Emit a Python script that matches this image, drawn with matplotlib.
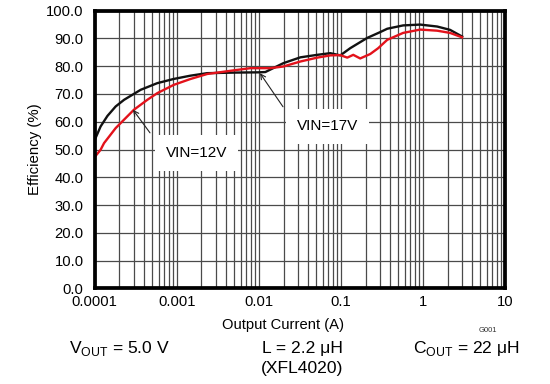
import matplotlib
matplotlib.use("Agg")
import matplotlib.pyplot as plt
from matplotlib.ticker import FixedLocator, LogLocator, NullFormatter

plt.rcParams['font.family'] = ['Liberation Sans', 'DejaVu Sans']
plt.rcParams['mathtext.fontset'] = 'custom'
plt.rcParams['mathtext.rm'] = 'Liberation Sans'

# ---- data ----
i_12v = [0.0001, 0.000118, 0.00013, 0.00018, 0.000227, 0.0003, 0.000438, 0.000579,
         0.000922, 0.00147, 0.00235, 0.00491, 0.00791, 0.0138, 0.0199, 0.0321, 0.0516,
         0.0743, 0.0984, 0.1197, 0.1415, 0.172, 0.228, 0.285, 0.367, 0.574, 0.925,
         1.49, 2.14, 3.0]
eff_12v = [47.3, 49.9, 52.3, 57.7, 60.7, 64.3, 67.9, 70.3,
           73.3, 75.4, 77.2, 78.5, 79.3, 79.3, 79.9, 81.7, 83.1,
           83.9, 84.0, 83.1, 84.1, 82.8, 84.4, 86.5, 89.5, 92.0, 93.2,
           92.8, 92.0, 90.4]

i_17v = [0.0001, 0.000118, 0.000143, 0.00018, 0.000228, 0.000363, 0.000579, 0.000914,
         0.00147, 0.00235, 0.005, 0.0099, 0.012, 0.0199, 0.0321, 0.0516, 0.0743,
         0.0984, 0.13, 0.2095, 0.302, 0.367, 0.574, 0.925, 1.49, 2.14, 3.0]
eff_17v = [53.4, 58.3, 62.1, 65.5, 67.9, 71.5, 73.9, 75.4,
           76.6, 77.5, 77.7, 77.8, 77.9, 81.1, 83.2, 84.1, 84.7,
           83.9, 86.5, 90.2, 92.3, 93.5, 94.7, 95.0, 94.3, 93.1, 90.7]

x_ticks = [0.0001, 0.001, 0.01, 0.1, 1, 10]
x_tick_labels = ['0.0001', '0.001', '0.01', '0.1', '1', '10']
y_ticks = [0, 10, 20, 30, 40, 50, 60, 70, 80, 90, 100]
y_tick_labels = ['%.1f' % v for v in y_ticks]

# ---- figure ----
fig = plt.figure(figsize=(5.5, 3.84), dpi=100)
W, H = 550, 384
left, right, top, bottom = 94.7, 505.0, 10.7, 288.3
ax = fig.add_axes([left / W, 1 - bottom / H, (right - left) / W, (bottom - top) / H])

ax.set_xscale('log')
ax.set_xlim(0.0001, 10)
ax.set_ylim(0, 100)

ax.xaxis.set_major_locator(FixedLocator(x_ticks))
ax.set_xticklabels(x_tick_labels)
ax.xaxis.set_minor_locator(LogLocator(base=10, subs=range(2, 10), numticks=50))
ax.xaxis.set_minor_formatter(NullFormatter())
ax.set_yticks(y_ticks)
ax.set_yticklabels(y_tick_labels)

ax.grid(True, which='major', axis='both', color='#4a4a4a', linewidth=0.9, zorder=0)
ax.grid(True, which='minor', axis='x', color='#4a4a4a', linewidth=0.9, zorder=0)
ax.set_axisbelow(True)

ax.tick_params(axis='both', which='both', length=0, labelsize=10.6, colors='black')
ax.tick_params(axis='y', pad=8)
ax.tick_params(axis='x', pad=5)

for s in ax.spines.values():
    s.set_linewidth(2.7)
    s.set_color('black')
    s.set_zorder(5)

ax.plot(i_17v, eff_17v, color='#111111', linewidth=1.7, zorder=3)
ax.plot(i_12v, eff_12v, color='#e3121b', linewidth=1.7, zorder=3)

box = dict(boxstyle='square,pad=0.7', facecolor='white', edgecolor='none')
ax.text(0.00174, 48.7, 'VIN=12V', fontsize=11, ha='center', va='center', bbox=box, zorder=4)
ax.text(0.0687, 58.3, 'VIN=17V', fontsize=11, ha='center', va='center', bbox=box, zorder=4)

arrow = dict(arrowstyle='->', color='#222222', linewidth=0.8, shrinkA=0, shrinkB=0,
             mutation_scale=9)
ax.annotate('', xy=(0.000293, 64.3), xytext=(0.000472, 56.0), arrowprops=arrow, zorder=4)
ax.annotate('', xy=(0.01033, 77.5), xytext=(0.0197, 65.4), arrowprops=arrow, zorder=4)

ax.set_xlabel('Output Current (A)', fontsize=10.6)
ax.xaxis.label.set_va('center')
ax.xaxis.set_label_coords((283 - left) / (right - left), -(325 - bottom) / (bottom - top))
ax.set_ylabel('Efficiency (%)', fontsize=10.8)
ax.yaxis.label.set_va('center')
ax.yaxis.set_label_coords((35 - left) / (right - left), 0.5)

fig.text(488 / W, 1 - 330 / H, 'G001', fontsize=5.5, ha='center', va='center', color='#333333')
fig.text(69 / W, 1 - 353.3 / H, r'V$_{\mathregular{OUT}}$ = 5.0 V', fontsize=12.6,
         ha='left', va='baseline')
fig.text(302 / W, 1 - 353.3 / H, 'L = 2.2 μH', fontsize=12.6, ha='center', va='baseline')
fig.text(302 / W, 1 - 373.3 / H, '(XFL4020)', fontsize=12.6, ha='center', va='baseline')
fig.text(413 / W, 1 - 353.3 / H, r'C$_{\mathregular{OUT}}$ = 22 μH', fontsize=12.6,
         ha='left', va='baseline')

fig.savefig('out.png', dpi=100)
